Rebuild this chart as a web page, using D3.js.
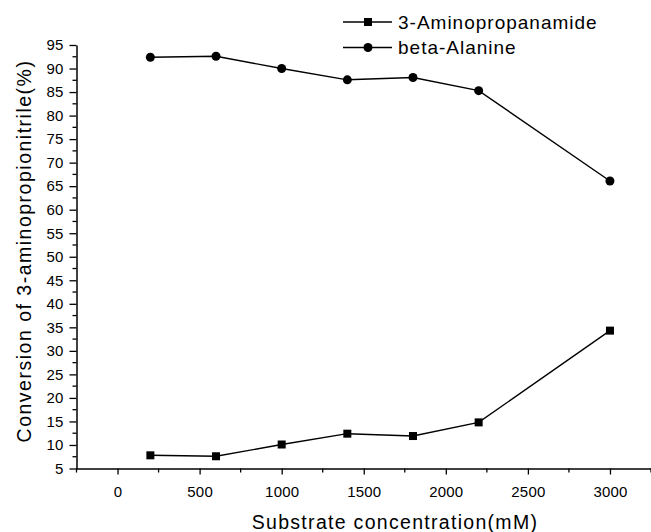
<!DOCTYPE html>
<html>
<head>
<meta charset="utf-8">
<script src="https://cdn.jsdelivr.net/npm/d3@7"></script>
<style>
  html, body { margin: 0; padding: 0; background: #fff; }
  svg { display: block; font-family: "Liberation Sans", Arial, sans-serif; }
</style>
</head>
<body>
<svg id="chart" width="651" height="532"></svg>
<script>
// ---- data ----
const concentrations = [200, 600, 1000, 1400, 1800, 2200, 3000];
const aminopropanamide = [7.8, 7.6, 10.1, 12.4, 11.9, 14.8, 34.3];
const betaAlanine = [92.4, 92.6, 90.0, 87.6, 88.1, 85.3, 66.1];
const seriesNames = ["3-Aminopropanamide", "beta-Alanine"];
const xTicks = [0, 500, 1000, 1500, 2000, 2500, 3000];
const yTicks = [5, 10, 15, 20, 25, 30, 35, 40, 45, 50, 55, 60, 65, 70, 75, 80, 85, 90, 95];
const xTitle = "Substrate concentration(mM)";
const yTitle = "Conversion of 3-aminopropionitrile(%)";

const svg = d3.select("#chart");
const x = d3.scaleLinear().domain([-250, 3250]).range([76.5, 651]);
const y = d3.scaleLinear().domain([5, 95]).range([468.5, 45]);

// minor ticks
const xMinor = d3.range(-250, 3251, 500);
const yMinor = d3.range(7.5, 95, 5);

const gx = svg.append("g").attr("transform", "translate(0,468.5)");
gx.call(d3.axisBottom(x).tickValues(xTicks).tickFormat(d3.format("d"))
  .tickSize(6).tickPadding(12).tickSizeOuter(0));
gx.append("g").selectAll("line").data(xMinor).join("line")
  .attr("x1", d => x(d)).attr("x2", d => x(d)).attr("y1", 0).attr("y2", 4)
  .attr("stroke", "#000").attr("stroke-width", 1.3);

const gy = svg.append("g").attr("transform", "translate(76.5,0)");
gy.call(d3.axisLeft(y).tickValues(yTicks).tickFormat(d3.format("d"))
  .tickSize(7).tickPadding(6).tickSizeOuter(0));
gy.append("g").selectAll("line").data(yMinor).join("line")
  .attr("y1", d => y(d)).attr("y2", d => y(d)).attr("x1", 0).attr("x2", -4)
  .attr("stroke", "#000").attr("stroke-width", 1.3);

svg.selectAll(".domain").attr("stroke", "#000").attr("stroke-width", 1.5);
svg.selectAll(".tick line").attr("stroke", "#000").attr("stroke-width", 1.3);
svg.selectAll(".tick text").attr("font-size", 15).attr("fill", "#000")
  .attr("font-family", "Liberation Sans, Arial, sans-serif").style("letter-spacing", "0.2px");

// lines
const line = d3.line().x((d, i) => x(concentrations[i])).y(d => y(d));
[aminopropanamide, betaAlanine].forEach((vals) => {
  svg.append("path").datum(vals).attr("d", line)
    .attr("fill", "none").attr("stroke", "#000").attr("stroke-width", 1.4);
});

// markers
svg.append("g").selectAll("rect").data(aminopropanamide).join("rect")
  .attr("x", (d, i) => x(concentrations[i]) - 4)
  .attr("y", d => y(d) - 4)
  .attr("width", 8).attr("height", 8).attr("fill", "#000");
svg.append("g").selectAll("circle").data(betaAlanine).join("circle")
  .attr("cx", (d, i) => x(concentrations[i]))
  .attr("cy", d => y(d))
  .attr("r", 4.5).attr("fill", "#000");

// legend
const legend = svg.append("g");
seriesNames.forEach((name, i) => {
  const ly = 22 + i * 25.5;
  legend.append("line").attr("x1", 343).attr("x2", 392).attr("y1", ly).attr("y2", ly)
    .attr("stroke", "#000").attr("stroke-width", 1.4);
  if (i === 0) {
    legend.append("rect").attr("x", 364).attr("y", ly - 4).attr("width", 8).attr("height", 8).attr("fill", "#000");
  } else {
    legend.append("circle").attr("cx", 368).attr("cy", ly).attr("r", 4.5).attr("fill", "#000");
  }
  legend.append("text").attr("x", 398).attr("y", ly).attr("dy", "0.35em")
    .attr("font-size", 19).style("letter-spacing", "1px").text(name);
});

// axis titles
svg.append("text").attr("x", 395).attr("y", 529).attr("text-anchor", "middle")
  .attr("font-size", 19.5).style("letter-spacing", "1.3px").text(xTitle);
svg.append("text").attr("transform", "translate(31,251) rotate(-90)")
  .attr("text-anchor", "middle")
  .attr("font-size", 19.5).style("letter-spacing", "1.5px").text(yTitle);
</script>
</body>
</html>
